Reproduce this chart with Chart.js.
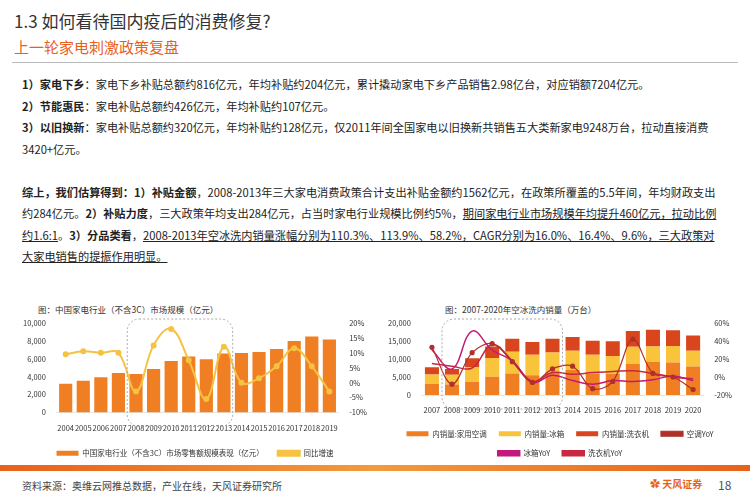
<!DOCTYPE html>
<html><head><meta charset="utf-8">
<script src="https://cdn.jsdelivr.net/npm/chart.js@4"></script>
<style>
body{margin:0;width:750px;height:500px;background:#fff;font-family:"Noto Sans CJK SC",sans-serif;position:relative;overflow:hidden;color:#222}
.t1{position:absolute;left:14px;top:8px;font-size:17px;color:#333}
.t2{position:absolute;left:14px;top:36px;font-size:15px;color:#e8611a}
.sep{position:absolute;left:12px;top:62px;width:726px;border-top:1px solid #bbb}
.txt{position:absolute;left:22px;top:74px;width:700px;font-size:11.2px;line-height:21.5px}
.txt p{margin:0}
b{font-weight:bold}
u{text-decoration:underline}
.cap{position:absolute;font-size:8.5px;color:#333}
.band{position:absolute;left:0;top:465px;width:750px;height:6px;background:linear-gradient(90deg,#e8611a,#f39a3a,#e8611a)}
.foot{position:absolute;left:22px;top:478px;font-size:10px;color:#444}
.pg{position:absolute;left:718px;top:476px;font-size:12px;color:#555}
.logo{position:absolute;left:650px;top:476px;font-size:10px;color:#e8611a;font-weight:bold}
</style></head><body>
<div class="t1">1.3 如何看待国内疫后的消费修复?</div>
<div class="t2">上一轮家电刺激政策复盘</div>
<div class="sep"></div>
<div class="txt">
<p><b>1）家电下乡</b>：家电下乡补贴总额约816亿元，年均补贴约204亿元，累计撬动家电下乡产品销售2.98亿台，对应销额7204亿元。</p>
<p><b>2）节能惠民</b>：家电补贴总额约426亿元，年均补贴约107亿元。</p>
<p><b>3）以旧换新</b>：家电补贴总额约320亿元，年均补贴约128亿元，仅2011年间全国家电以旧换新共销售五大类新家电9248万台，拉动直接消费3420+亿元。</p>
<p>&nbsp;</p>
<p><b>综上，我们估算得到：1）补贴金额</b>，2008-2013年三大家电消费政策合计支出补贴金额约1562亿元，在政策所覆盖的5.5年间，年均财政支出约284亿元。<b>2）补贴力度</b>，三大政策年均支出284亿元，占当时家电行业规模比例约5%，<u>期间家电行业市场规模年均提升460亿元，拉动比例约1.6:1</u>。<b>3）分品类看</b>，<u>2008-2013年空冰洗内销量涨幅分别为110.3%、113.9%、58.2%，CAGR分别为16.0%、16.4%、9.6%，三大政策对大家电销售的提振作用明显。</u></p>
</div>
<div class="cap" style="left:38px;top:303px">图：中国家电行业（不含3C）市场规模（亿元）</div>
<div class="cap" style="left:445px;top:303px">图：2007-2020年空冰洗内销量（万台）</div>
<div style="position:absolute;left:20px;top:315px;width:350px;height:152px"><canvas id="c1"></canvas></div>
<div style="position:absolute;left:385px;top:315px;width:350px;height:152px"><canvas id="c2"></canvas></div>
<div class="band"></div>
<div class="foot">资料来源：奥维云网推总数据，产业在线，天风证券研究所</div>
<div class="logo">✿ 天风证券</div>
<div class="pg">18</div>
<script>
const years1=['2004','2005','2006','2007','2008','2009','2010','2011','2012','2013','2014','2015','2016','2017','2018','2019'];
const market=[3200,3550,3950,4400,4300,4850,5750,6250,5950,6600,6650,6750,7100,8000,8500,8150];
const growth=[9.5,10.5,10,10,-3,12.5,18,7.5,-5.5,12,0,1.5,5.5,11.5,5.5,-3];
const years2=['2007','2008','2009','2010','2011','2012','2013','2014','2015','2016','2017','2018','2019','2020'];
const ac=[3100,2900,3700,5100,6000,5500,6200,7000,6000,5800,8700,9200,9000,7900];
const fridge=[2600,2700,4100,5200,6000,5700,5600,5300,5200,5000,4700,4300,4600,4400];
const washer=[2000,1600,2400,3200,3600,3500,3800,3800,3900,4100,4400,4600,4400,4200];
const acYoY=[33,-8,27,37,17,-6,9,12,-13,-5,42,4,0,-14];
const frYoY=[30,9,51,30,18,-6,2,-4,-8,-4,-5,-3,1,-4];
const waYoY=[15,12,10,36,18,-5,5,3,5,6,7,4,0,-2];
const F={family:'"Noto Sans CJK SC", sans-serif',size:7.5};
Chart.defaults.font=F;Chart.defaults.color='#333';
function boxPlugin(i0,i1){return{id:'box',afterDatasetsDraw(ch){const x=ch.scales.x,c=ch.ctx;const w=x.getPixelForValue(1)-x.getPixelForValue(0);
const l=x.getPixelForValue(i0)-w/2,r=x.getPixelForValue(i1)+w/2,t=ch.chartArea.top-4,b=ch.chartArea.bottom+14;
c.save();c.setLineDash([2,2]);c.strokeStyle='#aaa';c.beginPath();c.roundRect(l,t,r-l,b-t,12);c.stroke();c.restore();}}}
new Chart(c1,{data:{labels:years1,datasets:[
{type:'line',label:'同比增速',data:growth,yAxisID:'y1',borderColor:'#f5c242',backgroundColor:'#f5c242',borderWidth:2,pointRadius:2,tension:0.4},
{type:'bar',label:'中国家电行业（不含3C）市场零售额规模表现（亿元）',data:market,backgroundColor:'#ef7f22',barPercentage:0.75,categoryPercentage:1}]},
options:{responsive:true,maintainAspectRatio:false,animation:false,layout:{padding:{top:8}},
plugins:{legend:{position:'bottom',reverse:true,labels:{boxWidth:22,boxHeight:5,font:F,padding:14}}},
scales:{x:{grid:{display:false},ticks:{font:F,maxRotation:0,autoSkip:false}},
y:{min:0,max:10000,ticks:{stepSize:2000,font:F,callback:v=>v.toLocaleString('en-US')},grid:{display:false},border:{display:false}},
y1:{position:'right',min:-10,max:20,ticks:{stepSize:5,font:F,callback:v=>v+'%'},grid:{display:false},border:{display:false}}}},
plugins:[boxPlugin(4,9)]});
new Chart(c2,{data:{labels:years2,datasets:[
{type:'line',label:'空调YoY',data:acYoY,yAxisID:'y1',borderColor:'#b0302a',backgroundColor:'#b0302a',borderWidth:1.2,pointRadius:2,tension:0.35,order:0},
{type:'line',label:'冰箱YoY',data:frYoY,yAxisID:'y1',borderColor:'#c4187a',backgroundColor:'#c4187a',borderWidth:1.5,pointRadius:0,tension:0.4,order:0},
{type:'line',label:'洗衣机YoY',data:waYoY,yAxisID:'y1',borderColor:'#c82840',backgroundColor:'#c82840',borderWidth:1.5,pointRadius:0,tension:0.4,order:0},
{type:'bar',label:'内销量:家用空调',data:ac,backgroundColor:'#ef7f22',stack:'s',barPercentage:0.7,categoryPercentage:1,order:1},
{type:'bar',label:'内销量:冰箱',data:fridge,backgroundColor:'#f9c33b',stack:'s',barPercentage:0.7,categoryPercentage:1,order:1},
{type:'bar',label:'内销量:洗衣机',data:washer,backgroundColor:'#d9461e',stack:'s',barPercentage:0.7,categoryPercentage:1,order:1}]},
options:{responsive:true,maintainAspectRatio:false,animation:false,layout:{padding:{top:8}},
plugins:{legend:{position:'bottom',labels:{boxWidth:22,boxHeight:5,font:F,padding:12,
sort:(a,b)=>{const o=[3,4,5,0,1,2];return o.indexOf(a.datasetIndex)-o.indexOf(b.datasetIndex)}}}},
scales:{x:{stacked:true,grid:{display:false},ticks:{font:F,maxRotation:0,autoSkip:false}},
y:{stacked:true,min:0,max:20000,ticks:{stepSize:5000,font:F,callback:v=>v.toLocaleString('en-US')},grid:{display:false},border:{display:false}},
y1:{position:'right',min:-20,max:60,ticks:{stepSize:20,font:F,callback:v=>v+'%'},grid:{display:false},border:{display:false}}}},
plugins:[boxPlugin(1,6)]});
</script></body></html>
